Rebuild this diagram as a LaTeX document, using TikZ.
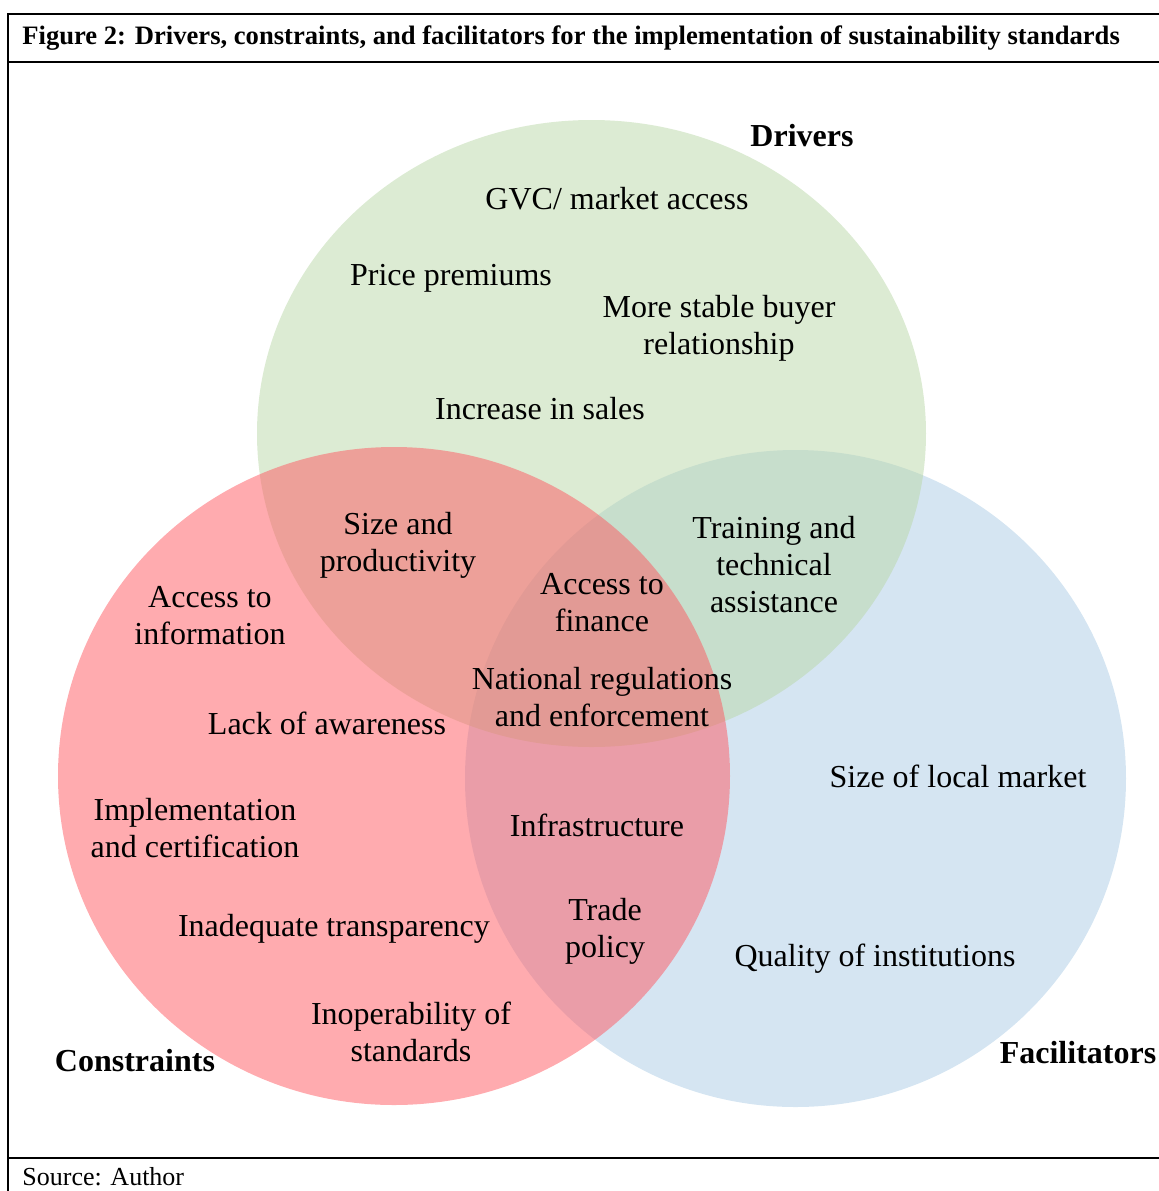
\documentclass[tikz,border=0pt]{standalone}
\usepackage{fontspec}
\setmainfont{Liberation Serif}
\definecolor{drvgreen}{RGB}{185,215,167}
\definecolor{conred}{RGB}{255,87,95}
\definecolor{facblue}{RGB}{171,203,229}
\begin{document}
\begin{tikzpicture}[x=0.5pt,y=-0.5pt]
\tikzstyle{every node}+=[inner sep=0pt, align=center, yshift=-1pt, font=\fontsize{16}{18.5}\selectfont]
\tikzstyle{setname}=[font=\fontsize{16}{18.5}\selectfont\bfseries, yshift=1pt]
\tikzstyle{frameline}=[line width=1.3pt, black]
\useasboundingbox (0,0) rectangle (1159,1191);
% frame
\draw [frameline] (1159,14) -- (8,14) -- (8,1191);
\draw [frameline] (8,62) -- (1159,62);
\draw [frameline] (8,1158) -- (1159,1158);
\node (title) [anchor=west, yshift=1pt, font=\fontsize{13.3}{15}\selectfont\bfseries] at (22,38) {Figure 2: Drivers, constraints, and facilitators for the implementation of sustainability standards};
\node (source) [anchor=west, yshift=1pt, font=\fontsize{13}{15}\selectfont] at (22,1177) {Source: Author};
% the three sets
\fill [facblue, fill opacity=0.5] (795.5,778.5) ellipse (330.5 and 328.5);
\fill [drvgreen, fill opacity=0.5] (591.5,433.5) ellipse (334.5 and 313.5);
\fill [conred, fill opacity=0.5] (394,776) ellipse (336 and 329);
\node (drivers) [setname] at (802,136) {Drivers};
\node (constraints) [setname] at (135,1061) {Constraints};
\node (facilitators) [setname] at (1078,1053) {Facilitators};
% drivers only
\node (gvc) at (617,197) {GVC/ market access};
\node (premiums) at (451,276) {Price premiums};
\node (buyer) at (719,326) {More stable buyer\\relationship};
\node (sales) at (540,407) {Increase in sales};
% drivers and constraints
\node (size) at (398,543) {Size and\\productivity};
% drivers and facilitators
\node (training) at (774,563) {Training and\\technical\\assistance};
% all three
\node (finance) at (602,601) {Access to\\finance};
\node (regulations) at (602,695) {National regulations\\and enforcement};
% constraints only
\node (information) at (210,614) {Access to\\information};
\node (awareness) at (327,721) {Lack of awareness};
\node (certification) at (195,826) {Implementation\\and certification};
\node (transparency) at (334,927) {Inadequate transparency};
\node (inoperability) at (411,1030) {Inoperability of\\standards};
% constraints and facilitators
\node (infrastructure) at (597,823) {Infrastructure};
\node (trade) at (605,929) {Trade\\policy};
% facilitators only
\node (localmarket) at (958,774) {Size of local market};
\node (institutions) at (875,957) {Quality of institutions};
\end{tikzpicture}
\end{document}
